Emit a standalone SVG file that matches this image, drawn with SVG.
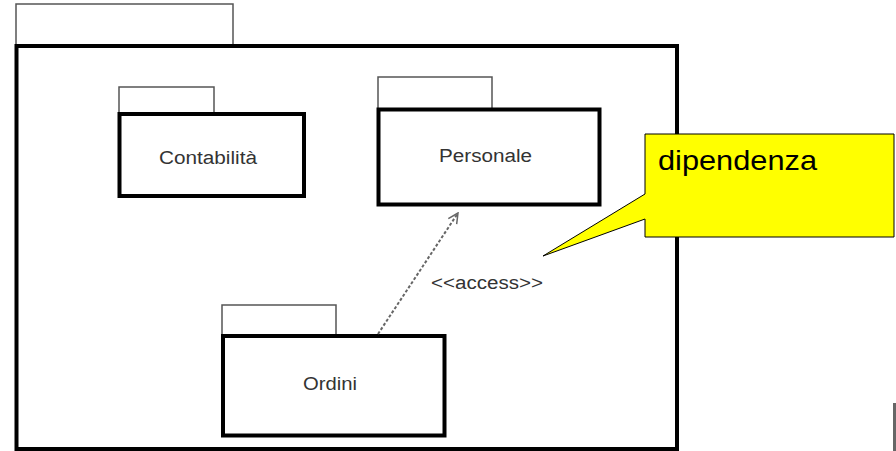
<svg xmlns="http://www.w3.org/2000/svg" width="896" height="451" viewBox="0 0 896 451">
<style>
.tab{fill:#fff;stroke:#555;stroke-width:1.5}
.box{fill:#fff;stroke:#000;stroke-width:4}
.lbl{font-family:"Liberation Sans",Arial,sans-serif;font-size:18px;fill:#333;text-anchor:middle}
.dep{fill:none;stroke:#666;stroke-width:2;stroke-dasharray:3,2}
</style>
<defs>
<marker id="open" viewBox="0 0 12 12" refX="11" refY="6" markerWidth="12" markerHeight="12" markerUnits="userSpaceOnUse" orient="auto">
<path d="M1,1 L11,6 L1,11" fill="none" stroke="#666" stroke-width="1.5"/>
</marker>
</defs>
<g id="outer">
<rect class="tab" x="16" y="4" width="217" height="42"/>
<rect class="box" x="16.5" y="46" width="660.5" height="403"/>
</g>
<g id="contabilita">
<rect class="tab" x="119" y="87" width="95" height="27"/>
<rect class="box" x="119.5" y="114" width="184.5" height="82"/>
<text class="lbl" x="208" y="164" textLength="98" lengthAdjust="spacingAndGlyphs">Contabilità</text>
</g>
<g id="personale">
<rect class="tab" x="378" y="77" width="114" height="32"/>
<rect class="box" x="378.5" y="109.5" width="221" height="95"/>
<text class="lbl" x="485.5" y="162" textLength="93" lengthAdjust="spacingAndGlyphs">Personale</text>
</g>
<g id="ordini">
<rect class="tab" x="222" y="305" width="114" height="31"/>
<rect class="box" x="223" y="336" width="221.5" height="99.5"/>
<text class="lbl" x="330" y="390" textLength="54" lengthAdjust="spacingAndGlyphs">Ordini</text>
</g>
<g id="connectors">
<line class="dep" x1="378" y1="334" x2="458" y2="213" marker-end="url(#open)"/>
<text class="lbl" x="487" y="289" textLength="112" lengthAdjust="spacingAndGlyphs">&lt;&lt;access&gt;&gt;</text>
</g>
<g id="callout">
<path d="M645,134 L894,134 L894,237 L645,237 L645,219 L543,256 L645,194 Z" fill="#ffff00" stroke="#000" stroke-width="1"/>
<text x="658" y="170" font-family="Liberation Sans,Arial,sans-serif" font-size="28" fill="#000" textLength="159" lengthAdjust="spacingAndGlyphs">dipendenza</text>
</g>
<rect x="893" y="403" width="3" height="48" fill="#666"/>
</svg>
